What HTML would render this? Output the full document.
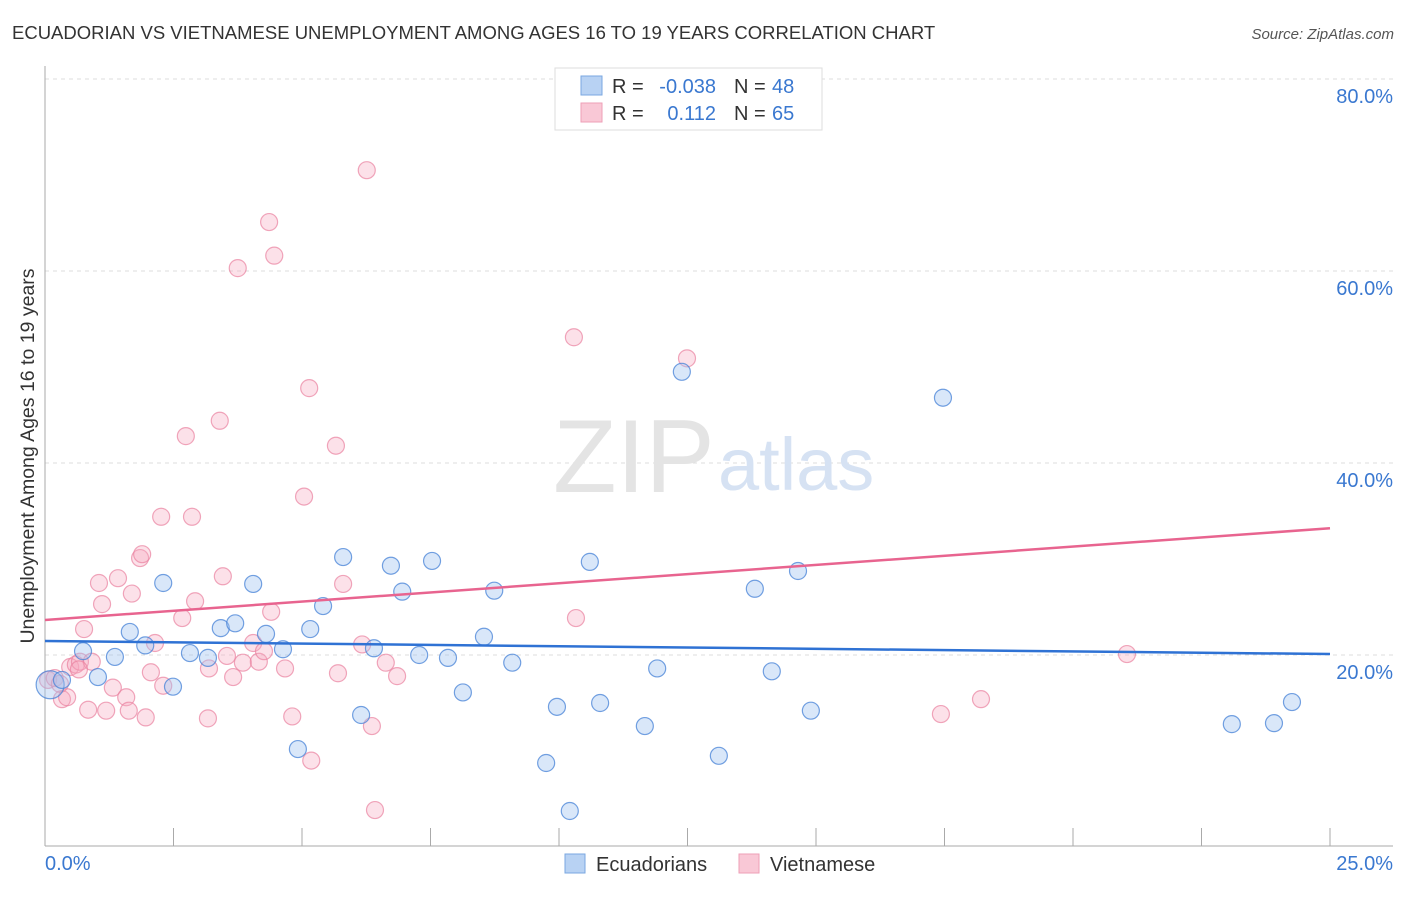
<!DOCTYPE html>
<html><head><meta charset="utf-8"><style>
body{margin:0;background:#fff;font-family:"Liberation Sans",sans-serif;}
svg text{font-family:"Liberation Sans",sans-serif;}
</style></head><body>
<svg id="chart" width="1406" height="892">
<text x="12" y="39" font-size="18.5" fill="#333">ECUADORIAN VS VIETNAMESE UNEMPLOYMENT AMONG AGES 16 TO 19 YEARS CORRELATION CHART</text>
<text x="1394" y="39" font-size="15" fill="#555" font-style="italic" text-anchor="end">Source: ZipAtlas.com</text>
<text transform="translate(34,456) rotate(-90)" font-size="19.5" fill="#333" text-anchor="middle">Unemployment Among Ages 16 to 19 years</text>
<g id="grid"></g>
<text x="553" y="492" font-size="104" fill="#e4e4e4" font-family="Liberation Serif">ZIP</text>
<text x="718" y="490" font-size="74" fill="#d6e2f3">atlas</text>
<g id="pts"></g>
<g id="trend"></g>
<g>
<rect x="555" y="68" width="267" height="62" fill="#fff" stroke="#ddd"/>
<rect x="581" y="76" width="21" height="19" fill="#b8d2f3" stroke="#7aa7e0"/>
<rect x="581" y="103" width="21" height="19" fill="#f9c8d6" stroke="#ee9fb7"/>
<text x="612" y="93" font-size="20" fill="#333">R = </text><text x="716" y="93" font-size="20" fill="#3a78d0" text-anchor="end">-0.038</text>
<text x="734" y="93" font-size="20" fill="#333">N = </text><text x="772" y="93" font-size="20" fill="#3a78d0">48</text>
<text x="612" y="120" font-size="20" fill="#333">R = </text><text x="716" y="120" font-size="20" fill="#3a78d0" text-anchor="end">0.112</text>
<text x="734" y="120" font-size="20" fill="#333">N = </text><text x="772" y="120" font-size="20" fill="#3a78d0">65</text>
</g>
<g>
<rect x="565" y="854" width="20" height="19" fill="#b8d2f3" stroke="#7aa7e0"/>
<text x="596" y="871" font-size="20" fill="#333">Ecuadorians</text>
<rect x="739" y="854" width="20" height="19" fill="#f9c8d6" stroke="#ee9fb7"/>
<text x="770" y="871" font-size="20" fill="#333">Vietnamese</text>
</g>
</svg>
<script>
const yTicks=[20,40,60,80];
const xTickLabels=["0.0%","25.0%"];
const blueX=[0.10,0.33,0.74,1.03,1.36,1.65,1.95,2.30,2.49,2.82,3.17,3.42,3.70,4.05,4.30,4.63,4.92,5.16,5.41,5.80,6.15,6.40,6.73,6.95,7.28,7.53,7.84,8.13,8.54,8.74,9.09,9.75,9.96,10.21,10.60,10.80,11.67,11.91,12.39,13.11,13.81,14.14,14.65,14.90,17.47,23.09,23.91,24.26];
const blueY=[16.9,17.4,20.4,17.7,19.8,22.4,21.0,27.5,16.7,20.2,19.7,22.8,23.3,27.4,22.2,20.6,10.2,22.7,25.1,30.2,13.75,20.7,29.3,26.6,20.0,29.8,19.7,16.1,21.9,26.7,19.2,8.75,14.6,3.75,29.7,15.0,12.6,18.6,49.5,9.5,26.9,18.3,28.75,14.2,46.8,12.8,12.9,15.1];
const pinkX=[0.06,0.19,0.33,0.43,0.49,0.60,0.68,0.76,0.84,0.91,1.05,1.11,1.19,1.32,1.42,1.58,1.63,1.69,1.85,1.89,1.96,2.06,2.14,2.26,2.30,2.67,2.74,2.86,2.92,3.17,3.19,3.40,3.46,3.54,3.66,3.75,3.85,4.05,4.16,4.26,4.36,4.40,4.46,4.67,4.81,5.04,5.14,5.18,5.66,5.70,5.80,6.17,6.26,6.36,6.42,6.63,6.85,10.29,10.33,12.49,17.43,18.21,21.05,0.29,0.66];
const pinkY=[17.4,17.6,15.4,15.6,18.75,19.0,19.3,22.7,14.3,19.3,27.5,25.3,14.2,16.6,28.0,15.6,14.2,26.4,30.1,30.5,13.5,18.2,21.25,34.4,16.8,23.85,42.8,34.4,25.6,13.4,18.6,44.4,28.2,19.9,17.7,60.3,19.2,21.25,19.3,20.4,65.1,24.5,61.6,18.6,13.6,36.5,47.8,9.0,41.8,18.1,27.4,21.1,70.5,12.6,3.85,19.2,17.8,53.1,23.85,50.9,13.85,15.4,20.1,17.0,18.5];
const blueTrend=[21.46,20.1];
const pinkTrend=[23.65,33.2];
const X0=45,X1=1330,Y0=847,PXY=9.6;
const sx=v=>X0+(v/25)*(X1-X0);
const sy=v=>Y0-v*PXY;
const NS="http://www.w3.org/2000/svg";
function mk(t,a,p){const e=document.createElementNS(NS,t);for(const k in a)e.setAttribute(k,a[k]);p.appendChild(e);return e;}
const grid=document.getElementById('grid');
yTicks.forEach(t=>{
  const l=mk('line',{x1:X0,x2:1393,y1:sy(t),y2:sy(t),stroke:'#ddd','stroke-dasharray':'4,4'},grid);
  
  
  const tx=mk('text',{x:1393,y:sy(t)+24,'font-size':20,fill:'#3a78d0','text-anchor':'end'},grid);
  tx.textContent=t.toFixed(1)+'%';
  
  
});
const ax=mk('line',{x1:X0,x2:X0,y1:66,y2:846,stroke:'#aaa'},grid);


const bx=mk('line',{x1:X0,x2:1393,y1:846,y2:846,stroke:'#aaa'},grid);


for(let i=0;i<=10;i++){const x=sx(i*2.5);const t=mk('line',{x1:x,x2:x,y1:828,y2:846,stroke:'#aaa'},grid);

}
const xl0=mk('text',{x:45,y:870,'font-size':20,fill:'#3a78d0'},grid);xl0.textContent=xTickLabels[0];


const xl1=mk('text',{x:1393,y:870,'font-size':20,fill:'#3a78d0','text-anchor':'end'},grid);xl1.textContent=xTickLabels[1];


const pts=document.getElementById('pts');
pinkX.forEach((v,i)=>{const c=mk('circle',{cx:sx(v),cy:sy(pinkY[i]),r:8.5,fill:'rgba(246,170,192,0.35)',stroke:'rgba(234,130,160,0.7)','stroke-width':1.2},pts);

});
blueX.forEach((v,i)=>{const c=mk('circle',{cx:sx(v),cy:sy(blueY[i]),r:i===0?14:8.5,fill:'rgba(160,196,240,0.4)',stroke:'rgba(70,130,215,0.75)','stroke-width':1.2},pts);

});
const tr=document.getElementById('trend');
const bl=mk('line',{x1:sx(0),y1:sy(blueTrend[0]),x2:sx(25),y2:sy(blueTrend[1]),stroke:'#2f72d4','stroke-width':2.5},tr);


const pl=mk('line',{x1:sx(0),y1:sy(pinkTrend[0]),x2:sx(25),y2:sy(pinkTrend[1]),stroke:'#e8648f','stroke-width':2.5},tr);


</script>
</body></html>
